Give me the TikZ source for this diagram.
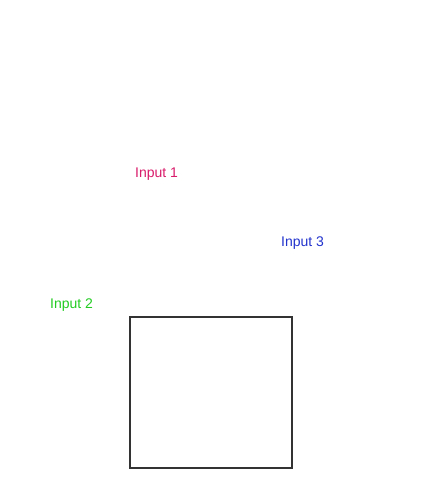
\documentclass[tikz,border=0pt]{standalone}
\usepackage{fontspec}
\setmainfont{Liberation Sans}
\definecolor{inA}{HTML}{D81B6A}
\definecolor{inB}{HTML}{22CC22}
\definecolor{inC}{HTML}{2233CC}
\definecolor{boxc}{HTML}{333333}
\begin{document}
\begin{tikzpicture}[x=1pt,y=-1pt,
  lbl/.style={inner sep=0pt,anchor=base west,font=\fontsize{14}{16}\selectfont}]
\useasboundingbox (0,0) rectangle (425,500);
\node[lbl,text=inA] (in1) at (135,177) {Input 1};
\node[lbl,text=inC] (in3) at (281,246) {Input 3};
\node[lbl,text=inB] (in2) at (50,308) {Input 2};
\node[draw=boxc,line width=2pt,minimum width=162pt,minimum height=151pt,inner sep=0pt] (box) at (210.5,392.3) {};
\end{tikzpicture}
\end{document}
